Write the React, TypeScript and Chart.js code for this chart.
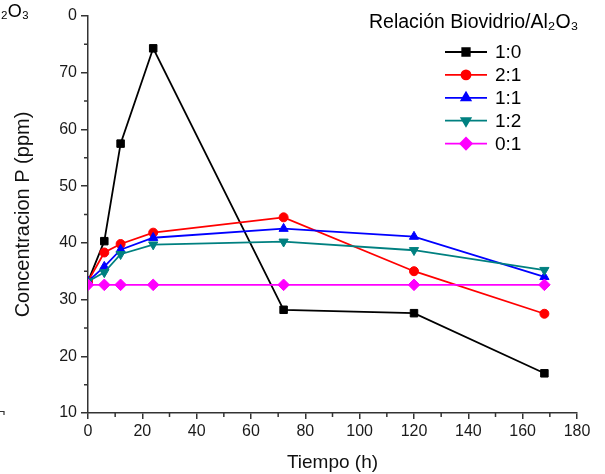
import React, { useEffect, useRef } from 'react';
import { Chart, registerables } from 'chart.js';
import { drawPoint } from 'chart.js/helpers';

Chart.register(...registerables);

// ---- data ----
const times = [0, 6, 12, 24, 72, 120, 168];
const seriesLabels = ['1:0', '2:1', '1:1', '1:2', '0:1'];
const s10 = [33.2, 40.3, 57.5, 74.3, 28.2, 27.6, 17.0];
const s21 = [33.2, 38.3, 39.8, 41.8, 44.5, 35.0, 27.5];
const s11 = [33.2, 35.8, 38.8, 40.9, 42.5, 41.1, 34.0];
const s12 = [33.2, 34.8, 38.0, 39.7, 40.2, 38.7, 35.2];
const s01 = [32.6, 32.6, 32.6, 32.6, 32.6, 32.6, 32.6];
const seriesValues = [s10, s21, s11, s12, s01];

const xMajor = [0, 20, 40, 60, 80, 100, 120, 140, 160, 180];
const xMinor = [10, 30, 50, 70, 90, 110, 130, 150, 170];
const yMajor = [10, 20, 30, 40, 50, 60, 70, 80];
const yMinor = [15, 25, 35, 45, 55, 65, 75];

const legendTitle = 'Relación Biovidrio/Al₂O₃';
const xTitle = 'Tiempo (h)';
const yTitle = 'Concentracion P (ppm)';
const cornerText = '₂O₃';

// ---- styles ----
const colors = ['#000000', '#ff0000', '#0000ff', '#008080', '#ff00ff'];
const markers = [
  { pointStyle: 'rect', radius: 5.3, rotation: 0 },
  { pointStyle: 'circle', radius: 4.5, rotation: 0 },
  { pointStyle: 'triangle', radius: 5.3, rotation: 0 },
  { pointStyle: 'triangle', radius: 5.3, rotation: 180 },
  { pointStyle: 'rectRot', radius: 5.8, rotation: 0 },
];
const FONT = 'Arial, "Liberation Sans", sans-serif';
const AXIS = '#333333';

const decorPlugin = {
  id: 'decor',
  afterDraw(chart: any) {
    const ctx = chart.ctx;
    const xs = chart.scales.x;
    const ys = chart.scales.y;
    ctx.save();
    // minor ticks
    ctx.strokeStyle = AXIS;
    ctx.lineWidth = 1.5;
    ctx.beginPath();
    xMinor.forEach((v) => {
      const px = xs.getPixelForValue(v);
      ctx.moveTo(px, ys.bottom);
      ctx.lineTo(px, ys.bottom + 4);
    });
    yMinor.forEach((v) => {
      const py = ys.getPixelForValue(v);
      ctx.moveTo(xs.left, py);
      ctx.lineTo(xs.left - 4, py);
    });
    ctx.stroke();

    // legend
    ctx.fillStyle = '#000';
    ctx.font = `19.5px ${FONT}`;
    ctx.textBaseline = 'middle';
    ctx.textAlign = 'left';
    ctx.fillText(legendTitle, 369, 23);
    const rowY0 = 52;
    const rowStep = 22.9;
    ctx.font = `19px ${FONT}`;
    seriesLabels.forEach((lab, i) => {
      const y = rowY0 + i * rowStep;
      ctx.strokeStyle = colors[i];
      ctx.fillStyle = colors[i];
      ctx.lineWidth = 1.8;
      ctx.beginPath();
      ctx.moveTo(445, y);
      ctx.lineTo(487, y);
      ctx.stroke();
      drawPoint(ctx, { ...markers[i], borderWidth: 1 } as any, 466, y);
      ctx.fillStyle = '#000';
      ctx.fillText(lab, 495, y + 1);
    });

    // cropped fragments at the left edge
    ctx.fillStyle = '#000';
    ctx.textAlign = 'right';
    ctx.font = `18px ${FONT}`;
    ctx.fillText(cornerText, 29, 12);
    ctx.strokeStyle = '#333';
    ctx.lineWidth = 1.2;
    ctx.beginPath();
    ctx.moveTo(0, 411.5);
    ctx.lineTo(4, 411.5);
    ctx.lineTo(4, 415);
    ctx.stroke();
    ctx.restore();
  },
};

export default function App() {
  const ref = useRef<HTMLCanvasElement | null>(null);

  useEffect(() => {
    if (!ref.current) return;
    const datasets = seriesLabels.map((lab, i) => ({
      label: lab,
      data: times.map((t, j) => ({ x: t, y: seriesValues[i][j] })),
      borderColor: colors[i],
      backgroundColor: colors[i],
      borderWidth: 1.8,
      pointStyle: markers[i].pointStyle,
      pointRadius: markers[i].radius,
      pointRotation: markers[i].rotation,
      pointBorderWidth: 1,
      pointBorderColor: colors[i],
      pointBackgroundColor: colors[i],
      tension: 0,
      fill: false,
      order: seriesLabels.length - i,
    }));

    const chart = new Chart(ref.current, {
      type: 'line',
      data: { datasets },
      plugins: [decorPlugin],
      options: {
        responsive: false,
        animation: false,
        events: [],
        layout: { padding: { top: 16, right: 28, left: 0, bottom: 0 } },
        plugins: {
          legend: { display: false },
          tooltip: { enabled: false },
        },
        scales: {
          x: {
            type: 'linear',
            min: 0,
            max: 180,
            afterBuildTicks: (s: any) => {
              s.ticks = xMajor.map((v) => ({ value: v }));
            },
            afterFit: (s: any) => {
              s.height = 61;
            },
            ticks: {
              font: { size: 16, family: FONT },
              color: '#1a1a1a',
              padding: 3,
              maxRotation: 0,
              autoSkip: false,
            },
            grid: {
              display: true,
              drawOnChartArea: false,
              drawTicks: true,
              tickLength: 6,
              color: AXIS,
              lineWidth: 1.5,
            },
            border: { display: true, color: AXIS, width: 1.5 },
            title: {
              display: true,
              text: xTitle,
              font: { size: 19, family: FONT },
              color: '#111',
              padding: { top: 0, bottom: 0 },
            },
          },
          y: {
            type: 'linear',
            min: 10,
            max: 80,
            afterBuildTicks: (s: any) => {
              s.ticks = yMajor.map((v) => ({ value: v }));
            },
            afterFit: (s: any) => {
              s.width = 88;
            },
            ticks: {
              font: { size: 16, family: FONT },
              color: '#1a1a1a',
              padding: 4,
              autoSkip: false,
              callback: (v: any) => (v === 80 ? '0' : String(v)),
            },
            grid: {
              display: true,
              drawOnChartArea: false,
              drawTicks: true,
              tickLength: 7,
              color: AXIS,
              lineWidth: 1.5,
            },
            border: { display: true, color: AXIS, width: 1.5 },
            title: {
              display: true,
              text: yTitle,
              font: { size: 20, family: FONT },
              color: '#111',
              padding: { top: 11, bottom: 0 },
            },
          },
        },
      } as any,
    });
    return () => chart.destroy();
  }, []);

  return (
    <div style={{ position: 'absolute', left: 0, top: 0, width: 605, height: 474, background: '#fff' }}>
      <canvas ref={ref} width={605} height={474} style={{ display: 'block', width: 605, height: 474 }} />
    </div>
  );
}
